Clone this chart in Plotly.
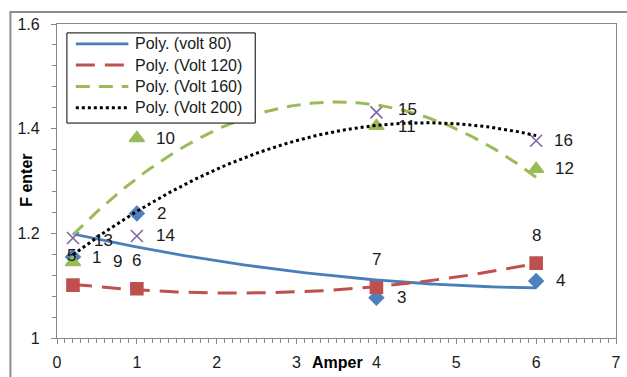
import numpy as np
import plotly.graph_objects as go

# Measurements: current (A) vs. F enter, four voltage settings
amper = [0.2, 1, 4, 6]
volt80 = [1.155, 1.238, 1.077, 1.109]
volt120 = [1.101, 1.094, 1.097, 1.143]
volt160 = [1.145, 1.382, 1.405, 1.323]
volt200 = [1.191, 1.195, 1.431, 1.377]

ids80 = ["1", "2", "3", "4"]
ids120 = ["5", "6", "7", "8"]
ids160 = ["9", "10", "11", "12"]
ids200 = ["13", "14", "15", "16"]

trend_names = ["Poly. (volt 80)", "Poly. (Volt 120)", "Poly. (Volt 160)", "Poly. (Volt 200)"]
x_ticks = [0, 1, 2, 3, 4, 5, 6, 7]
y_ticks = [1, 1.2, 1.4, 1.6]

FONT = "Liberation Sans"
BLUE, RED, GREEN, PURPLE = "#4F81BD", "#C0504D", "#9BBB59", "#8064A2"

series = [
    dict(y=volt80, ids=ids80, color=BLUE, symbol="diamond", size=11,
         line=dict(color="#4A7EBB", width=2.8, dash="solid"),
         shifts=[(24, -1), (25, 0), (25, 0), (24, 0)]),
    dict(y=volt120, ids=ids120, color=RED, symbol="square", size=12,
         line=dict(color=RED, width=3, dash="19px,10px"),
         shifts=[(-1, 30), (0, 28), (0, 28), (0, 28)]),
    dict(y=volt160, ids=ids160, color=GREEN, symbol="triangle-up", size=13,
         line=dict(color=GREEN, width=3, dash="14px,9px"),
         shifts=[(45, 1), (29, 0), (31, 0), (28, 0)]),
    dict(y=volt200, ids=ids200, color=PURPLE, symbol="x-thin", size=12,
         line=dict(color="black", width=3, dash="dot"),
         shifts=[(31, -2), (29, 0), (31, 3), (27, 0)]),
]

fig = go.Figure()
xs = np.array(amper, dtype=float)
xfit = np.linspace(min(amper), max(amper), 200)

for s in series:
    fig.add_trace(go.Scatter(
        x=amper, y=s["y"], mode="markers", showlegend=False,
        marker=dict(symbol=s["symbol"], size=s["size"], color=s["color"],
                    line=dict(color=s["color"], width=1.6)),
    ))

# second-order polynomial trendlines
for s, name in zip(series, trend_names):
    coef = np.polyfit(xs, np.array(s["y"]), 2)
    fig.add_trace(go.Scatter(
        x=xfit, y=np.polyval(coef, xfit), mode="lines", name=name,
        line=s["line"], showlegend=False, hoverinfo="skip",
    ))

# data labels
for s in series:
    for xv, yv, txt, (dx, dy) in zip(amper, s["y"], s["ids"], s["shifts"]):
        fig.add_annotation(x=xv, y=yv, text=txt, showarrow=False,
                           xshift=dx, yshift=dy, xanchor="center", yanchor="middle",
                           font=dict(family=FONT, size=17, color="#1a1a1a"))

# legend box drawn in paper space
px0, px1 = 57, 621
py0, py1 = 341, 24
def to_px(px):
    return (px - px0) / (px1 - px0)
def to_py(py):
    return (py0 - py) / (py0 - py1)

fig.add_shape(type="rect", xref="paper", yref="paper",
              x0=to_px(67), x1=to_px(257), y0=to_py(124), y1=to_py(33),
              line=dict(color="black", width=1), fillcolor="white", layer="above")
for i, (s, name) in enumerate(zip(series, trend_names)):
    yy = 44 + i * 21.5
    fig.add_shape(type="line", xref="paper", yref="paper",
                  x0=to_px(76), x1=to_px(129), y0=to_py(yy), y1=to_py(yy),
                  line=s["line"], layer="above")
    fig.add_annotation(xref="paper", yref="paper", x=to_px(134), y=to_py(yy),
                       xanchor="left", yanchor="middle", text=name, showarrow=False,
                       font=dict(family=FONT, size=16, color="#1a1a1a"))

# outer chart border
fig.add_shape(type="rect", xref="paper", yref="paper",
              x0=to_px(10), x1=to_px(700), y0=to_py(450), y1=to_py(12),
              line=dict(color="#8C8C8C", width=2), layer="below")

# axis titles
fig.add_annotation(xref="paper", yref="paper", x=to_px(340), y=to_py(366),
                   xanchor="center", yanchor="middle",
                   text="<b>Amper</b>", showarrow=False,
                   font=dict(family=FONT, size=16, color="black"))
fig.add_annotation(xref="paper", yref="paper", x=to_px(26), y=to_py(182),
                   xanchor="center", yanchor="middle",
                   text="<b>F enter</b>", showarrow=False, textangle=-90,
                   font=dict(family=FONT, size=16, color="black"))

axis_common = dict(
    showgrid=False, zeroline=False, showline=True, linecolor="#868686",
    linewidth=1.2, mirror=True, ticks="outside", ticklen=5, tickcolor="#868686",
    tickfont=dict(family=FONT, size=16, color="#1a1a1a"),
)
fig.update_xaxes(range=[0, 7], tickvals=x_ticks, ticktext=[str(v) for v in x_ticks],
                 minor=dict(dtick=0.1, ticks="outside", ticklen=4, tickcolor="#868686"),
                 ticklabelstandoff=5, **axis_common)
fig.update_yaxes(range=[1, 1.6], tickvals=y_ticks, ticktext=["1", "1.2", "1.4", "1.6"],
                 minor=dict(dtick=0.04, ticks="outside", ticklen=4, tickcolor="#868686"),
                 ticklabelstandoff=8, **axis_common)

fig.update_layout(
    width=627, height=377,
    margin=dict(l=57, r=6, t=24, b=36),
    paper_bgcolor="white", plot_bgcolor="white",
    showlegend=False,
)

fig.write_html("out.html")
